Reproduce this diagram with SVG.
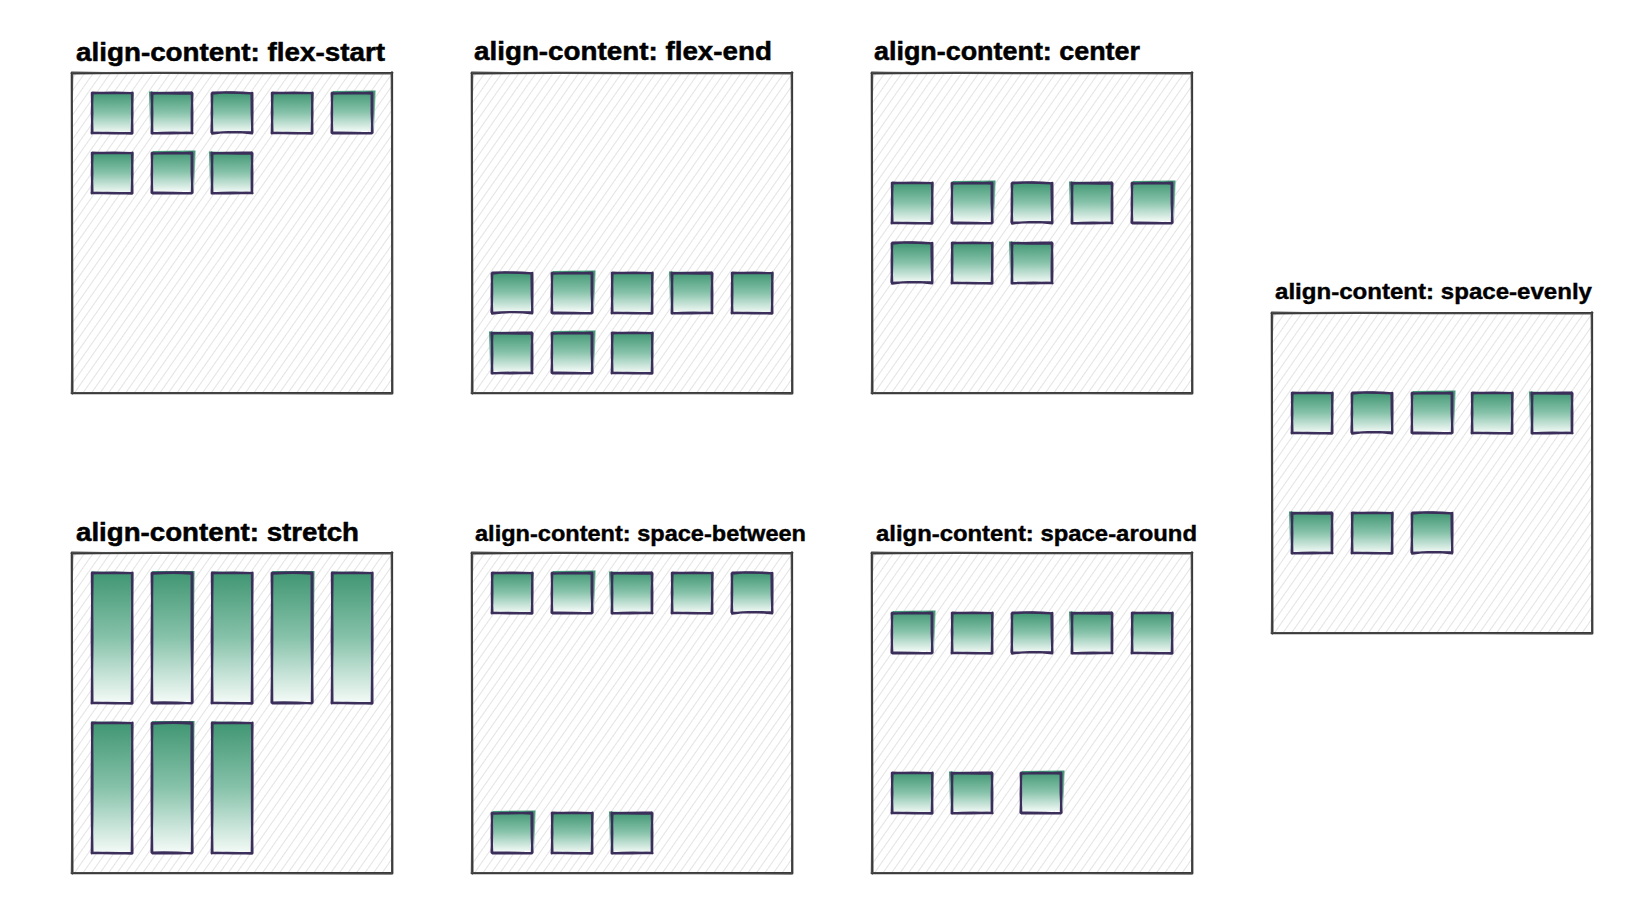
<svg xmlns="http://www.w3.org/2000/svg" width="1634" height="908" viewBox="0 0 1634 908">
<style>
.t1{font-family:"Liberation Sans",Arial,Helvetica,sans-serif;font-weight:bold;font-size:25px;fill:#000;stroke:#000;stroke-width:0.5}
.t2{font-family:"Liberation Sans",Arial,Helvetica,sans-serif;font-weight:bold;font-size:22px;fill:#000;stroke:#000;stroke-width:0.4}
.bg{fill:#fff}
.hx{fill:url(#h)}
.b1{fill:none;stroke:#3a3a3a;stroke-width:2.2;stroke-linecap:round}
.b2{fill:none;stroke:#4a4a4a;stroke-width:1.2;stroke-linecap:round}
.f{fill:url(#g)}
.s{fill:none;stroke:#3b2e5a;stroke-width:2.3;stroke-linecap:round;stroke-linejoin:round}
</style>
<defs>
<linearGradient id="g" x1="0" y1="0" x2="0" y2="1">
<stop offset="0" stop-color="#3f9571"/>
<stop offset="0.5" stop-color="#86c2aa"/>
<stop offset="1" stop-color="#f5fbf8"/>
</linearGradient>
<pattern id="h" patternUnits="userSpaceOnUse" width="7" height="7" patternTransform="rotate(35)">
<line x1="3.5" y1="-1" x2="3.5" y2="8" stroke="#e3e3e3" stroke-width="1"/>
</pattern>
<g id="box">
<rect class="bg" x="0" y="0" width="320" height="320"/>
<rect class="hx" x="0" y="0" width="320" height="320"/>
<path class="b1" d="M-0.5 0.3 C100 -0.8 220 1 320.4 -0.2 M320 -0.6 C320.9 100 319.5 220 320.3 320.5 M320.5 320 C220 321 100 319.4 -0.3 320.2 M0.4 320.6 C-0.7 220 0.8 100 -0.2 -0.3"/>
<path class="b2" d="M0.6 -0.8 C110 0.9 210 -0.4 319.6 0.7 M319.3 0.5 C320.2 110 320.8 210 319.6 319.4 M319.7 320.8 C210 319.5 110 320.9 0.5 319.5 M-0.6 319.7 C0.5 210 -0.9 110 0.7 0.6"/>
</g>
<g id="sA">
<path class="f" d="M0.5 -1 L41.5 -0.5 L40.5 40 L0 40.5Z"/>
<path class="s" d="M0 0.4 Q20.5 -0.9 40.3 0.2 M40.5 -0.3 Q39.7 20 40.4 40.2 M40.2 40.5 Q20 39.6 0.1 40.1 M-0.2 40.4 Q0.8 20 -0.1 0 M0.4 -0.4 Q19.5 0.7 40 -0.2 M40 0.5 Q40.9 21 39.8 39.6 M39.6 40 Q19 40.9 -0.4 39.7 M0.4 39.5 Q-0.7 19 0.5 0.3"/>
</g>
<g id="sB">
<path class="f" d="M1 -2 L43.5 -2.5 L42.5 38 L1.5 39Z"/>
<path class="s" d="M-0.3 0.2 Q20 0.9 40.2 -0.4 M40.3 0.3 Q40.8 19 39.9 40.3 M40.4 39.8 Q21 40.7 0.3 40.3 M0.2 40.1 Q-0.8 21 0.3 -0.3 M0.5 0.6 Q21 -0.6 39.6 0.5 M39.7 -0.2 Q39.3 21 40.5 39.5 M39.5 40.4 Q18 39.4 -0.2 39.6 M-0.4 39.5 Q0.6 18 -0.3 0.5"/>
</g>
<g id="sC">
<path class="f" d="M-3 -1.5 L39 -0.5 L39.5 40 L-2 39.5Z"/>
<path class="s" d="M0.3 -0.2 Q19 0.8 40.4 0.4 M39.8 -0.4 Q40.7 20 40.1 40.4 M40.5 40.2 Q19 39.2 -0.3 40.4 M0.3 40.5 Q-0.6 19 0.4 0.2 M-0.4 0.5 Q20 -0.6 39.7 -0.3 M40.4 0.4 Q39.4 19 39.8 39.7 M39.8 39.6 Q21 40.8 0.4 39.8 M-0.3 39.8 Q0.9 21 -0.4 -0.4"/>
</g>
<g id="sD">
<path class="f" d="M0 -0.5 L40.5 0 L40 40 L0.5 40Z"/>
<path class="s" d="M-0.2 0.5 Q20 -1.6 40.2 0.3 M40.3 -0.2 Q40.6 20 40.1 40.4 M40.2 40.3 Q20 37.8 0.1 40.5 M0.2 40.2 Q-0.8 20 0.3 -0.2 M0.5 -0.3 Q20 -0.9 39.5 0.4 M39.6 0.3 Q39.5 20 40.4 39.4 M39.8 39.5 Q20 38.5 -0.2 39.8 M-0.5 39.3 Q0.6 20 -0.3 0.6"/>
</g>
<g id="tA">
<path class="f" d="M-1 -1.5 L41 -1 L40.5 130 L0 130.5Z"/>
<path class="s" d="M0 0.4 Q20.5 -0.9 40.3 0.2 M40.5 -0.3 Q39.5 65 40.4 130.2 M40.2 130.5 Q20 129.6 0.1 130.1 M-0.2 130.4 Q1 65 -0.1 0 M0.4 -0.4 Q19.5 0.7 40 -0.2 M40 0.5 Q41 66 39.8 129.6 M39.6 130 Q19 130.9 -0.4 129.7 M0.4 129.5 Q-0.9 64 0.5 0.3"/>
</g>
<g id="tB">
<path class="f" d="M0.5 -2 L42.5 -2 L41.5 129 L1 129.5Z"/>
<path class="s" d="M-0.3 0.2 Q20 -1.2 40.2 -0.4 M40.3 0.3 Q40.9 64 39.9 130.3 M40.4 129.8 Q21 130.7 0.3 130.3 M0.2 130.1 Q-0.9 66 0.3 -0.3 M0.5 0.6 Q21 -0.6 39.6 0.5 M39.7 -0.2 Q39.2 66 40.5 129.5 M39.5 130.4 Q18 128.9 -0.2 129.6 M-0.4 129.5 Q0.8 63 -0.3 0.5"/>
</g>
</defs>

<g id="panel-flex-start">
<text class="t1" x="76" y="61" textLength="309" lengthAdjust="spacingAndGlyphs">align-content: flex-start</text>
<use href="#box" x="72" y="73"/>
<use href="#sA" x="92" y="93"/><use href="#sC" x="152" y="93"/><use href="#sD" x="212" y="93"/><use href="#sA" x="272" y="93"/><use href="#sB" x="332" y="93"/>
<use href="#sA" x="92" y="153"/><use href="#sB" x="152" y="153"/><use href="#sC" x="212" y="153"/>
</g>

<g id="panel-flex-end">
<text class="t1" x="474" y="60" textLength="298" lengthAdjust="spacingAndGlyphs">align-content: flex-end</text>
<use href="#box" x="472" y="73"/>
<use href="#sD" x="492" y="273"/><use href="#sB" x="552" y="273"/><use href="#sA" x="612" y="273"/><use href="#sC" x="672" y="273"/><use href="#sA" x="732" y="273"/>
<use href="#sC" x="492" y="333"/><use href="#sB" x="552" y="333"/><use href="#sA" x="612" y="333"/>
</g>

<g id="panel-center">
<text class="t1" x="874" y="60" textLength="266" lengthAdjust="spacingAndGlyphs">align-content: center</text>
<use href="#box" x="872" y="73"/>
<use href="#sA" x="892" y="183"/><use href="#sB" x="952" y="183"/><use href="#sD" x="1012" y="183"/><use href="#sC" x="1072" y="183"/><use href="#sB" x="1132" y="183"/>
<use href="#sD" x="892" y="243"/><use href="#sA" x="952" y="243"/><use href="#sC" x="1012" y="243"/>
</g>

<g id="panel-space-evenly">
<text class="t2" x="1275" y="298.5" textLength="317" lengthAdjust="spacingAndGlyphs">align-content: space-evenly</text>
<use href="#box" x="1272" y="313"/>
<use href="#sA" x="1292" y="393"/><use href="#sD" x="1352" y="393"/><use href="#sB" x="1412" y="393"/><use href="#sA" x="1472" y="393"/><use href="#sC" x="1532" y="393"/>
<use href="#sC" x="1292" y="513"/><use href="#sA" x="1352" y="513"/><use href="#sD" x="1412" y="513"/>
</g>

<g id="panel-stretch">
<text class="t1" x="76" y="541" textLength="283" lengthAdjust="spacingAndGlyphs">align-content: stretch</text>
<use href="#box" x="72" y="553"/>
<use href="#tA" x="92" y="573"/><use href="#tB" x="152" y="573"/><use href="#tA" x="212" y="573"/><use href="#tB" x="272" y="573"/><use href="#tA" x="332" y="573"/>
<use href="#tA" x="92" y="723"/><use href="#tB" x="152" y="723"/><use href="#tA" x="212" y="723"/>
</g>

<g id="panel-space-between">
<text class="t2" x="475" y="541" textLength="331" lengthAdjust="spacingAndGlyphs">align-content: space-between</text>
<use href="#box" x="472" y="553"/>
<use href="#sA" x="492" y="573"/><use href="#sB" x="552" y="573"/><use href="#sC" x="612" y="573"/><use href="#sA" x="672" y="573"/><use href="#sD" x="732" y="573"/>
<use href="#sB" x="492" y="813"/><use href="#sA" x="552" y="813"/><use href="#sC" x="612" y="813"/>
</g>

<g id="panel-space-around">
<text class="t2" x="876" y="541" textLength="321" lengthAdjust="spacingAndGlyphs">align-content: space-around</text>
<use href="#box" x="872" y="553"/>
<use href="#sB" x="892" y="613"/><use href="#sA" x="952" y="613"/><use href="#sD" x="1012" y="613"/><use href="#sC" x="1072" y="613"/><use href="#sA" x="1132" y="613"/>
<use href="#sA" x="892" y="773"/><use href="#sC" x="952" y="773"/><use href="#sB" x="1021" y="773"/>
</g>

<g id="connectors"></g>
</svg>
